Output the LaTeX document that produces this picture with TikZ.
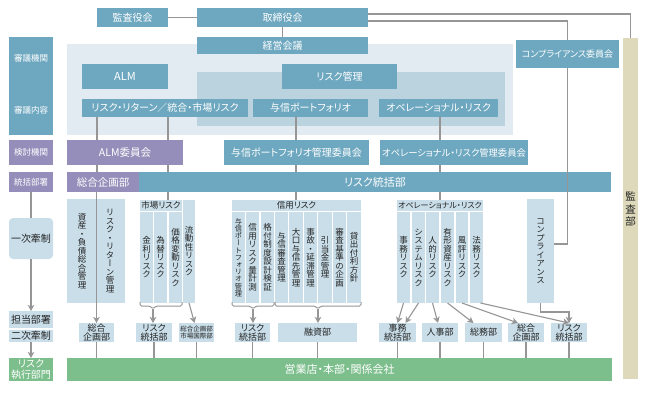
\documentclass[tikz,border=0pt]{standalone}
\usepackage{fontspec}
\setmainfont{Noto Sans CJK JP}[RawFeature=+palt]
\newfontfamily\vjp{Noto Sans CJK JP}[RawFeature=+vert]
\usetikzlibrary{arrows.meta}
\definecolor{cblue}{RGB}{110,168,192}
\definecolor{cpanel}{RGB}{226,235,241}
\definecolor{cmid}{RGB}{186,211,223}
\definecolor{cpur}{RGB}{150,142,186}
\definecolor{clight}{RGB}{201,222,233}
\definecolor{cgreen}{RGB}{124,190,140}
\definecolor{ctan}{RGB}{221,217,186}
\definecolor{cgray}{RGB}{150,150,150}
\definecolor{ctext}{RGB}{35,35,35}
\newdimen\vtsk
\newcommand\vtext[2][0pt]{\vbox{\offinterlineskip\vtsk=#1\relax\vtloop#2\relax}}
\def\vtloop#1{\ifx\relax#1\else\hbox to 1em{\hss\vrule height \dimexpr.88em+\vtsk\relax depth .12em width 0pt\relax\smash{#1}\hss}\expandafter\vtloop\fi}
\newcommand\R[7]{%
  \pgfmathsetmacro\rw{#5-#3}\pgfmathsetmacro\rh{#6-#4}%
  \pgfmathsetmacro\rx{(#3+#5)/2}\pgfmathsetmacro\ry{(#4+#6)/2}%
  \node[#1, minimum width=\rw pt, minimum height=\rh pt] (#2) at (\rx,\ry) {#7};}
\newcommand\fs[1]{\fontsize{#1}{#1}\selectfont}
\tikzset{
  base/.style={rectangle, inner sep=0pt, outer sep=0pt, anchor=center},
  panelA/.style={base, fill=cpanel},
  panelB/.style={base, fill=cmid},
  bb/.style={base, fill=cblue, text=white, font=\fs{10}},
  pp/.style={base, fill=cpur, text=white, font=\fs{10.5}},
  lc/.style={base, fill=clight, text=ctext, font=\fs{8.5}},
  gr/.style={base, fill=cgreen, text=white, font=\fs{11}},
  tanbox/.style={base, fill=ctan, text=ctext, font=\vjp\fs{10.5}},
  vcol/.style={base, fill=clight, text=ctext, font=\vjp\fs{8.5}},
  vt/.style={base, text=ctext, font=\vjp\fs{8.5}},
  lbl/.style={base, text=white, font=\fs{8.5}},
  sm/.style={base, fill=clight, text=ctext, align=center, font=\fontsize{9}{9.5}\selectfont},
  gl/.style={draw=cgray, line width=1.1pt},
  brc/.style={draw=cgray, line width=1pt, rounded corners=1.5pt},
  arr/.style={gl, -{Stealth[length=6pt,width=6.5pt,inset=1.5pt]}},
}
\begin{document}
\begin{tikzpicture}[x=1pt,y=-1pt]
\useasboundingbox (0,0) rectangle (648,401);
\fill[white] (0,0) rectangle (648,401);
% panels
\R{panelA}{pnlA}{67}{44}{513}{135}{}
\R{panelB}{pnlB}{197}{72}{505}{126}{}
% top
\R{bb}{kansa}{97}{8}{168}{27}{監査役会}
\R{bb}{tori}{197}{8}{368}{27}{取締役会}
\R{bb}{keiei}{197}{37}{368}{54}{経営会議}
\R{bb,font=\fs{11}}{alm}{82}{64}{168}{89}{ALM}
\R{bb}{rkanri}{282}{64}{397}{89}{リスク管理}
\R{bb}{rr}{82}{99}{248}{117}{リスク・リターン／統合・市場リスク}
\R{bb}{yoshin}{253}{99}{368}{117}{与信ポートフォリオ}
\R{bb}{opr}{379}{99}{498}{117}{オペレーショナル・リスク}
\R{bb,font=\fs{9}}{ccom}{516}{40}{619}{68}{コンプライアンス委員会}
\R{tanbox}{kansabu}{623}{38}{638}{379}{\vtext[2pt]{監査部}}
% left labels
\R{bb}{L1}{9}{37}{53}{135}{}
\node[lbl] (L1a) at (31,58) {審議機関};
\node[lbl] (L1b) at (31,110) {審議内容};
\R{pp,font=\fs{8.5}}{L2}{9}{140}{53}{165}{検討機関}
\R{pp,font=\fs{8.5}}{L3}{9}{172}{53}{192}{統括部署}
\R{lc,rounded corners=4pt,font=\fs{10}}{L4}{9}{218}{53}{259}{一次牽制}
\R{lc,font=\fs{10}}{L5}{9}{311}{53}{328}{担当部署}
\R{lc,font=\fs{10}}{L6}{9}{330}{53}{342}{二次牽制}
\R{gr,align=center,font=\fontsize{10}{10.5}\selectfont}{L7}{9}{358}{53}{381}{リスク\\執行部門}
% committees
\R{pp}{almc}{67}{140}{183}{165}{ALM委員会}
\R{bb}{ycom}{224}{140}{369}{165}{与信ポートフォリオ管理委員会}
\R{bb,font=\fs{9.3}}{ocom}{380}{140}{528}{165}{オペレーショナル・リスク管理委員会}
\R{pp}{sogo}{67}{172}{139}{192}{総合企画部}
\R{bb,font=\fs{11}}{rbar}{139}{172}{611}{192}{リスク統括部}
% ALM columns
\R{lc}{asset}{67}{199}{125}{303}{}
\node[vt] (a1) at (82,251) {\vtext{資産・負債総合管理}};
\node[vt] (a2) at (110,251) {\vtext{リスク・リターン管理}};
% market
\R{lc}{mhead}{140}{200}{182}{211}{市場リスク}
\R{vcol}{m1}{140}{212}{153}{303}{\vtext{金利リスク}}
\R{vcol}{m2}{154}{212}{167}{303}{\vtext{為替リスク}}
\R{vcol}{m3}{169}{212}{182}{303}{\vtext{価格変動リスク}}
\R{vcol}{m4}{183}{200}{195}{303}{\vtext{流動性リスク}}
% credit
\R{lc}{chead}{232}{200}{361}{211}{信用リスク}
\R{vcol,font=\vjp\fs{7.2}}{c1}{232}{212}{245}{303}{\vtext{与信ポートフォリオ管理}}
\R{vcol}{c2}{246}{212}{259}{303}{\vtext{信用リスク量計測}}
\R{vcol}{c3}{261}{212}{274}{303}{\vtext{格付制度設計検証}}
\R{vcol}{c4}{275}{212}{288}{303}{\vtext{与信審査管理}}
\R{vcol}{c5}{289}{212}{303}{303}{\vtext{大口与信先管理}}
\R{vcol}{c6}{304}{212}{317}{303}{\vtext{事故・延滞管理}}
\R{vcol}{c7}{318}{212}{332}{303}{\vtext{引当金管理}}
\R{vcol}{c8}{333}{212}{346}{303}{\vtext{審査基準の企画}}
\R{vcol}{c9}{347}{212}{361}{303}{\vtext{貸出付利方針}}
% operational
\R{lc,font=\fs{8}}{ohead}{397}{200}{483}{211}{オペレーショナル・リスク}
\R{vcol}{o1}{397}{212}{410}{303}{\vtext{事務リスク}}
\R{vcol}{o2}{412}{212}{425}{303}{\vtext{システムリスク}}
\R{vcol}{o3}{426}{212}{439}{303}{\vtext{人的リスク}}
\R{vcol}{o4}{441}{212}{454}{303}{\vtext{有形資産リスク}}
\R{vcol}{o5}{456}{212}{468}{303}{\vtext{風評リスク}}
\R{vcol}{o6}{470}{212}{483}{303}{\vtext{法務リスク}}
\R{vcol}{compl}{527}{199}{554}{303}{\vtext{コンプライアンス}}
% bottom boxes
\R{sm}{b1}{79}{323}{114}{342}{総合\\企画部}
\R{sm}{b2}{136}{323}{172}{342}{リスク\\統括部}
\R{sm,font=\fontsize{6.5}{7}\selectfont}{b3}{179}{323}{214}{342}{総合企画部\\市場国際部}
\R{sm}{b4}{235}{323}{270}{342}{リスク\\統括部}
\R{sm}{b5}{278}{323}{357}{342}{融資部}
\R{sm}{b6}{379}{323}{416}{342}{事務\\統括部}
\R{sm}{b7}{422}{323}{458}{342}{人事部}
\R{sm}{b8}{465}{323}{502}{342}{総務部}
\R{sm}{b9}{508}{323}{544}{342}{総合\\企画部}
\R{sm}{b10}{551}{323}{587}{342}{リスク\\統括部}
\R{gr}{green}{67}{358}{612}{381}{営業店・本部・関係会社}
% x positions
\coordinate (X97) at (97,0);
\coordinate (X168) at (168,0);
\coordinate (X296) at (296,0);
\coordinate (X440) at (440,0);
% connectors
\draw[gl] (kansa.east) -- (tori.west);
\draw[gl] (tori.south) -- (keiei.north);
\draw[gl] ([yshift=3.5pt]tori.east) -| (kansabu.north);
\draw[gl] ([yshift=-3.5pt]tori.east) -| (ccom.north);
\draw[gl] (ccom.south) |- ([yshift=7pt]compl.east);
\draw[arr] (compl.south) -- ++(0,9) -| (b10.north);
\draw[gl] (rr.south -| X97) -- (almc.north -| X97);
\draw[gl] (rr.south -| X168) -- (almc.north -| X168);
\draw[gl] (almc.south -| X97) -- (sogo.north -| X97);
\draw[gl] (almc.south -| X168) -- (rbar.north -| X168);
\draw[arr] (sogo.south -| b1.north) -- (b1.north);
\draw[gl] (rbar.south -| X168) -- (mhead.north -| X168);
\draw[gl] (yoshin.south -| X296) -- (ycom.north -| X296);
\draw[gl] (ycom.south -| X296) -- (rbar.north -| X296);
\draw[gl] (rbar.south -| X296) -- (chead.north -| X296);
\draw[gl] (opr.south -| X440) -- (ocom.north -| X440);
\draw[gl] (ocom.south -| X440) -- (rbar.north -| X440);
\draw[gl] (rbar.south -| X440) -- (ohead.north -| X440);
% left
\draw[gl] (L3.south) -- (L4.north);
\draw[arr] (L4.south) -- (L5.north);
\draw[arr] (L6.south) -- (L7.north);
% braces
\coordinate (mt) at (153,309);
\draw[brc] (140,302) -- (140,306) -- (150,306) -- (mt) -- (156,306) -- (182,306) -- (182,302);
\draw[arr] (mt) -- (mt |- b2.north);
\draw[arr] (m4.south) -- ([xshift=-2pt]b3.north);
\coordinate (ct1) at (253,309);
\draw[brc] (232,302) -- (232,306) -- (250,306) -- (ct1) -- (256,306) -- (274,306) -- (274,302);
\draw[arr] (ct1) -- (ct1 |- b4.north);
\coordinate (ct2) at (318,309);
\draw[brc] (275,302) -- (275,306) -- (315,306) -- (ct2) -- (321,306) -- (361,306) -- (361,302);
\draw[arr] (ct2) -- (ct2 |- b5.north);
% operational arrows
\draw[arr] (o1.south) -- (b6.north);
\draw[arr] (o2.south) -- ([xshift=8pt]b6.north);
\draw[arr] (o3.south) -- ([xshift=-2pt]b7.north);
\draw[arr] (o4.south) -- ([xshift=-10pt]b8.north);
\draw[arr] (o5.south) -- ([xshift=-8pt]b9.north);
\draw[arr] ([xshift=4pt]o6.south) -- (b10.north);
% to green
\foreach \b in {b1,b2,b3,b4,b5,b6,b7,b8,b9,b10}
  \draw[gl] (\b.south) -- (\b.south |- green.north);
\end{tikzpicture}
\end{document}
